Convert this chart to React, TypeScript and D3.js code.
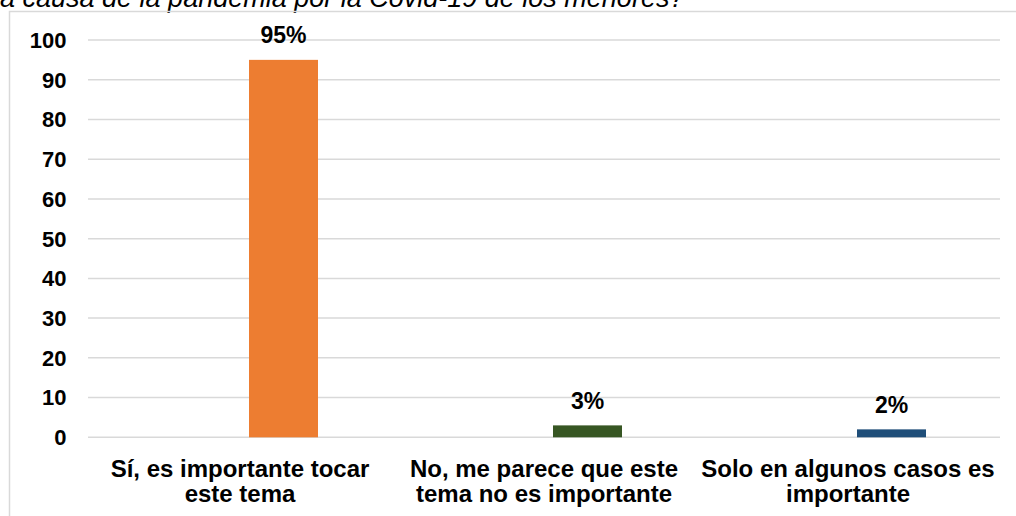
import React from "react";
import * as d3 from "d3";

const categories: string[][] = [
  ["Sí, es importante tocar", "este tema"],
  ["No, me parece que este", "tema no es importante"],
  ["Solo en algunos casos es", "importante"],
];
const values: number[] = [95, 3, 2];
const barColors: string[] = ["#ED7D31", "#375623", "#1F4E79"];
const yTicks: number[] = [0, 10, 20, 30, 40, 50, 60, 70, 80, 90, 100];
const titleText = "a causa de la pandemia por la Covid-19 de los menores?";

const W = 1016;
const H = 516;
const plotLeft = 88;
const plotRight = 1000;
const yTop = 40;
const yBottom = 437.3;

export default function App() {
  const x = d3
    .scaleBand<number>()
    .domain(values.map((_, i) => i))
    .range([plotLeft, plotRight]);
  const y = d3.scaleLinear().domain([0, 100]).range([yBottom, yTop]);
  const barW = 69;
  const barOffset = 43.5;
  const font = "'Liberation Sans', Arial, sans-serif";

  return (
    <svg
      width={W}
      height={H}
      style={{ position: "fixed", left: 0, top: 0, background: "#fff" }}
    >
      <rect x={0} y={0} width={W} height={H} fill="#fff" />
      <text
        x={0}
        y={7}
        fontFamily={font}
        fontStyle="italic"
        fontSize={27}
        fill="#000"
      >
        {titleText}
      </text>
      <rect
        x={9.5}
        y={11.5}
        width={W + 10}
        height={H + 10}
        fill="none"
        stroke="#d9d9d9"
        strokeWidth={1.5}
      />
      {yTicks.map((t) => (
        <g key={t}>
          <line
            x1={plotLeft}
            x2={plotRight}
            y1={y(t)}
            y2={y(t)}
            stroke="#d9d9d9"
            strokeWidth={1.5}
          />
          <text
            x={66.5}
            y={y(t)}
            dy="0.36em"
            textAnchor="end"
            fontFamily={font}
            fontWeight="bold"
            fontSize={22}
            fill="#000"
          >
            {t}
          </text>
        </g>
      ))}
      {values.map((v, i) => {
        const cx = (x(i) as number) + x.bandwidth() / 2 + barOffset;
        return (
          <g key={i}>
            <rect
              x={cx - barW / 2}
              y={y(v)}
              width={barW}
              height={y(0) - y(v)}
              fill={barColors[i]}
            />
            <text
              x={cx}
              y={y(v) - 16.5}
              textAnchor="middle"
              fontFamily={font}
              fontWeight="bold"
              fontSize={23}
              fill="#000"
            >
              {v}%
            </text>
          </g>
        );
      })}
      {categories.map((lines, i) => {
        const cx = (x(i) as number) + x.bandwidth() / 2;
        return (
          <text
            key={i}
            x={cx}
            textAnchor="middle"
            fontFamily={font}
            fontWeight="bold"
            fontSize={24}
            fill="#000"
          >
            {lines.map((l, j) => (
              <tspan key={j} x={cx} y={476.5 + j * 25.5}>
                {l}
              </tspan>
            ))}
          </text>
        );
      })}
    </svg>
  );
}
